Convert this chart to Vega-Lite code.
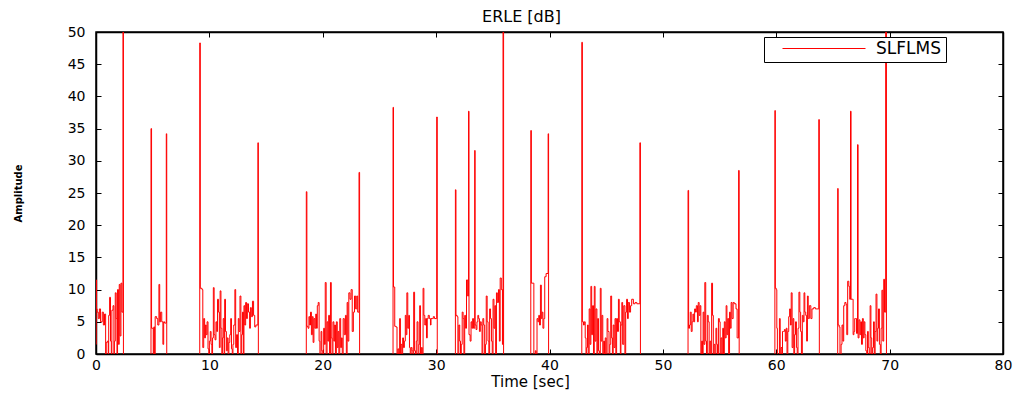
{
"$schema": "https://vega.github.io/schema/vega-lite/v6.json",
"autosize": {"type": "none"},
"padding": {"left": 96, "top": 32, "right": 23, "bottom": 42},
"width": 907,
"height": 322,
"background": "white",
"title": {"text": "ERLE [dB]", "font": "DejaVu Sans", "fontSize": 16, "fontWeight": "normal", "color": "black", "offset": 0, "dx": -28},
"config": {
  "view": {"stroke": "black", "strokeWidth": 1.5},
  "axis": {"grid": false, "domainColor": "black", "domainWidth": 1.5, "tickColor": "black", "tickSize": -5, "labelFont": "DejaVu Sans", "labelFontSize": 14, "labelColor": "black", "titleFont": "DejaVu Sans", "titleColor": "black", "titleFontWeight": "normal"},
  "legend": {"orient": "none", "legendX": 668, "legendY": 5, "strokeColor": "black", "fillColor": "white", "padding": 5, "symbolType": "stroke", "symbolSize": 6889, "symbolStrokeWidth": 1, "symbolOffset": 13, "labelOffset": 10, "labelFont": "DejaVu Sans", "labelFontSize": 17, "labelColor": "black", "clipHeight": 13, "labelLimit": 300, "title": null}
},
"data": {"values": [
{"t":0,"v":1.5},{"t":0.02,"v":11.5},{"t":0.05,"v":7.0},{"t":0.1,"v":6.5},{"t":0.2,"v":5.5},{"t":0.3,"v":7.0},{"t":0.4,"v":5.0},{"t":0.55,"v":6.5},{"t":0.65,"v":4.5},{"t":0.75,"v":6.2},{"t":0.85,"v":-5},{"t":0.9,"v":1.8},{"t":1.0,"v":2.0},{"t":1.08,"v":-5},{"t":1.12,"v":6.0},{"t":1.2,"v":8.8},{"t":1.28,"v":2.0},{"t":1.35,"v":-5},{"t":1.4,"v":6.8},{"t":1.5,"v":7.5},{"t":1.58,"v":-5},{"t":1.62,"v":2.0},{"t":1.7,"v":9.5},{"t":1.78,"v":5.5},{"t":1.85,"v":-5},{"t":1.9,"v":10.0},{"t":1.98,"v":1.5},{"t":2.05,"v":10.8},{"t":2.12,"v":2.8},{"t":2.2,"v":11.0},{"t":2.28,"v":6.5},{"t":2.38,"v":50.5},{"t":2.42,"v":-5},
{"t":4.85,"v":35},{"t":4.9,"v":4.0},{"t":5.05,"v":-5},{"t":5.1,"v":4.2},{"t":5.17,"v":-5},{"t":5.22,"v":5.8},{"t":5.35,"v":5.5},{"t":5.45,"v":4.5},{"t":5.55,"v":10.8},{"t":5.62,"v":5.0},{"t":5.7,"v":6.5},{"t":5.8,"v":5.0},{"t":5.9,"v":1.5},{"t":5.97,"v":5.0},{"t":6.05,"v":4.8},{"t":6.2,"v":34.2},{"t":6.24,"v":-5},
{"t":9.15,"v":48.3},{"t":9.2,"v":10.2},{"t":9.35,"v":10.0},{"t":9.42,"v":1.0},{"t":9.5,"v":5.5},{"t":9.58,"v":2.5},{"t":9.65,"v":4.5},{"t":9.72,"v":3.0},{"t":9.8,"v":5.0},{"t":9.88,"v":0.8},{"t":9.95,"v":-5},{"t":10.0,"v":2.0},{"t":10.08,"v":3.5},{"t":10.15,"v":1.5},{"t":10.22,"v":-5},{"t":10.28,"v":2.5},{"t":10.35,"v":10.3},{"t":10.42,"v":3.0},{"t":10.5,"v":2.2},{"t":10.58,"v":5.0},{"t":10.65,"v":3.5},{"t":10.72,"v":8.5},{"t":10.8,"v":6.5},{"t":10.88,"v":1.0},{"t":10.95,"v":9.8},{"t":11.02,"v":4.0},{"t":11.1,"v":-5},{"t":11.15,"v":2.5},{"t":11.22,"v":5.5},{"t":11.3,"v":-5},{"t":11.35,"v":8.5},{"t":11.42,"v":3.5},{"t":11.5,"v":0.5},{"t":11.58,"v":2.5},{"t":11.65,"v":-5},{"t":11.72,"v":1.8},{"t":11.8,"v":3.0},{"t":11.88,"v":5.5},{"t":11.95,"v":0.8},{"t":12.02,"v":-5},{"t":12.08,"v":1.5},{"t":12.15,"v":4.5},{"t":12.25,"v":10.0},{"t":12.32,"v":1.0},{"t":12.4,"v":3.0},{"t":12.48,"v":-5},{"t":12.55,"v":5.5},{"t":12.62,"v":3.5},{"t":12.7,"v":9.0},{"t":12.78,"v":-5},{"t":12.85,"v":3.0},{"t":12.92,"v":6.5},{"t":13.0,"v":-5},{"t":13.05,"v":7.5},{"t":13.12,"v":4.5},{"t":13.2,"v":8.0},{"t":13.28,"v":5.5},{"t":13.35,"v":7.8},{"t":13.45,"v":6.5},{"t":13.55,"v":4.0},{"t":13.62,"v":7.2},{"t":13.7,"v":5.8},{"t":13.8,"v":8.2},{"t":13.9,"v":6.0},{"t":14.0,"v":4.2},{"t":14.1,"v":4.5},{"t":14.28,"v":32.8},{"t":14.32,"v":-5},
{"t":18.55,"v":25.2},{"t":18.6,"v":4.3},{"t":18.7,"v":4.0},{"t":18.78,"v":5.8},{"t":18.85,"v":4.5},{"t":18.92,"v":6.5},{"t":19.0,"v":3.0},{"t":19.08,"v":5.8},{"t":19.15,"v":1.8},{"t":19.22,"v":5.5},{"t":19.3,"v":4.0},{"t":19.38,"v":6.2},{"t":19.45,"v":4.0},{"t":19.52,"v":7.5},{"t":19.6,"v":8.0},{"t":19.68,"v":2.0},{"t":19.75,"v":-5},{"t":19.85,"v":3.5},{"t":19.92,"v":0.5},{"t":20.0,"v":-5},{"t":20.08,"v":4.0},{"t":20.15,"v":1.5},{"t":20.22,"v":11.1},{"t":20.3,"v":-5},{"t":20.38,"v":5.0},{"t":20.45,"v":2.0},{"t":20.52,"v":6.0},{"t":20.6,"v":-5},{"t":20.68,"v":11.1},{"t":20.75,"v":2.5},{"t":20.82,"v":-5},{"t":20.9,"v":5.0},{"t":20.98,"v":2.0},{"t":21.05,"v":4.5},{"t":21.12,"v":-5},{"t":21.2,"v":5.0},{"t":21.28,"v":1.0},{"t":21.35,"v":3.5},{"t":21.42,"v":-5},{"t":21.5,"v":5.5},{"t":21.58,"v":1.0},{"t":21.65,"v":2.5},{"t":21.72,"v":-5},{"t":21.8,"v":5.5},{"t":21.9,"v":3.0},{"t":22.0,"v":6.0},{"t":22.08,"v":-5},{"t":22.15,"v":8.0},{"t":22.22,"v":2.0},{"t":22.3,"v":9.5},{"t":22.4,"v":8.5},{"t":22.5,"v":10.0},{"t":22.6,"v":3.5},{"t":22.7,"v":6.5},{"t":22.8,"v":9.0},{"t":22.9,"v":7.0},{"t":23.0,"v":9.0},{"t":23.08,"v":6.5},{"t":23.2,"v":28.2},{"t":23.25,"v":-5},
{"t":26.2,"v":38.3},{"t":26.24,"v":10.4},{"t":26.35,"v":4.3},{"t":26.45,"v":4.2},{"t":26.55,"v":-5},{"t":26.62,"v":0.8},{"t":26.7,"v":-5},{"t":26.78,"v":5.5},{"t":26.85,"v":-5},{"t":26.9,"v":1.5},{"t":26.98,"v":-5},{"t":27.05,"v":2.5},{"t":27.12,"v":1.0},{"t":27.2,"v":2.0},{"t":27.28,"v":6.0},{"t":27.35,"v":3.0},{"t":27.42,"v":9.5},{"t":27.5,"v":4.0},{"t":27.58,"v":6.0},{"t":27.65,"v":1.0},{"t":27.72,"v":-5},{"t":27.8,"v":1.0},{"t":27.88,"v":0.5},{"t":27.95,"v":-5},{"t":28.02,"v":9.6},{"t":28.1,"v":0.5},{"t":28.18,"v":-5},{"t":28.25,"v":2.0},{"t":28.32,"v":5.0},{"t":28.4,"v":-5},{"t":28.48,"v":1.5},{"t":28.55,"v":7.5},{"t":28.62,"v":-5},{"t":28.7,"v":1.0},{"t":28.78,"v":-5},{"t":28.85,"v":10.2},{"t":28.92,"v":6.0},{"t":29.0,"v":4.5},{"t":29.08,"v":5.5},{"t":29.15,"v":2.5},{"t":29.22,"v":5.5},{"t":29.3,"v":6.0},{"t":29.4,"v":5.5},{"t":29.5,"v":4.5},{"t":29.55,"v":5.5},{"t":29.65,"v":5.5},{"t":29.75,"v":5.8},{"t":29.85,"v":5.5},{"t":30.05,"v":36.8},{"t":30.1,"v":-5},
{"t":31.7,"v":25.5},{"t":31.75,"v":6.0},{"t":31.85,"v":5.8},{"t":31.92,"v":-5},{"t":32.0,"v":4.5},{"t":32.08,"v":2.0},{"t":32.15,"v":-5},{"t":32.22,"v":1.5},{"t":32.3,"v":6.5},{"t":32.38,"v":5.5},{"t":32.45,"v":-5},{"t":32.52,"v":6.0},{"t":32.6,"v":4.0},{"t":32.68,"v":11.5},{"t":32.78,"v":9.0},{"t":32.86,"v":37.7},{"t":32.9,"v":3.0},{"t":33.0,"v":2.0},{"t":33.08,"v":5.0},{"t":33.15,"v":4.0},{"t":33.22,"v":5.5},{"t":33.3,"v":4.0},{"t":33.4,"v":31.6},{"t":33.44,"v":4.5},{"t":33.52,"v":3.8},{"t":33.6,"v":5.0},{"t":33.68,"v":6.0},{"t":33.75,"v":5.5},{"t":33.82,"v":3.5},{"t":33.9,"v":5.0},{"t":33.98,"v":4.5},{"t":34.05,"v":-5},{"t":34.12,"v":5.5},{"t":34.2,"v":4.5},{"t":34.28,"v":-5},{"t":34.35,"v":1.5},{"t":34.42,"v":9.0},{"t":34.5,"v":5.0},{"t":34.58,"v":2.0},{"t":34.65,"v":-5},{"t":34.72,"v":7.0},{"t":34.8,"v":5.5},{"t":34.88,"v":2.0},{"t":34.95,"v":-5},{"t":35.02,"v":8.5},{"t":35.1,"v":4.0},{"t":35.18,"v":7.5},{"t":35.25,"v":-5},{"t":35.32,"v":9.5},{"t":35.4,"v":8.0},{"t":35.5,"v":10.0},{"t":35.58,"v":2.0},{"t":35.65,"v":11.8},{"t":35.75,"v":10.0},{"t":35.85,"v":1.5},{"t":35.9,"v":50.5},{"t":35.95,"v":-5},
{"t":38.35,"v":34.7},{"t":38.4,"v":11.0},{"t":38.55,"v":11.0},{"t":38.62,"v":-5},{"t":38.75,"v":0.5},{"t":38.82,"v":-5},{"t":38.9,"v":5.5},{"t":38.98,"v":5.0},{"t":39.05,"v":6.0},{"t":39.12,"v":4.5},{"t":39.2,"v":10.7},{"t":39.28,"v":5.5},{"t":39.35,"v":6.5},{"t":39.42,"v":4.0},{"t":39.5,"v":5.5},{"t":39.58,"v":12.0},{"t":39.7,"v":12.5},{"t":39.88,"v":34.2},{"t":39.92,"v":-5},
{"t":42.85,"v":48.4},{"t":42.9,"v":5.0},{"t":43.0,"v":4.5},{"t":43.07,"v":5.0},{"t":43.15,"v":2.5},{"t":43.22,"v":-5},{"t":43.28,"v":1.0},{"t":43.35,"v":4.5},{"t":43.42,"v":-5},{"t":43.5,"v":7.0},{"t":43.58,"v":1.5},{"t":43.65,"v":10.5},{"t":43.72,"v":3.0},{"t":43.8,"v":7.5},{"t":43.88,"v":-5},{"t":43.95,"v":10.5},{"t":44.02,"v":2.0},{"t":44.1,"v":7.0},{"t":44.18,"v":-5},{"t":44.25,"v":5.5},{"t":44.32,"v":0.5},{"t":44.4,"v":-5},{"t":44.48,"v":10.2},{"t":44.55,"v":2.0},{"t":44.62,"v":6.0},{"t":44.7,"v":-5},{"t":44.78,"v":2.0},{"t":44.85,"v":-5},{"t":44.92,"v":2.5},{"t":45.0,"v":-5},{"t":45.08,"v":5.5},{"t":45.15,"v":3.5},{"t":45.25,"v":-5},{"t":45.32,"v":1.5},{"t":45.4,"v":9.0},{"t":45.48,"v":2.5},{"t":45.55,"v":-5},{"t":45.62,"v":4.5},{"t":45.7,"v":1.0},{"t":45.78,"v":5.5},{"t":45.85,"v":-5},{"t":45.92,"v":5.5},{"t":46.0,"v":3.5},{"t":46.08,"v":8.5},{"t":46.15,"v":5.0},{"t":46.25,"v":-5},{"t":46.3,"v":4.5},{"t":46.38,"v":8.0},{"t":46.45,"v":1.5},{"t":46.55,"v":7.5},{"t":46.65,"v":-5},{"t":46.72,"v":6.5},{"t":46.8,"v":8.5},{"t":46.88,"v":5.5},{"t":46.95,"v":8.0},{"t":47.05,"v":6.5},{"t":47.15,"v":7.5},{"t":47.25,"v":8.5},{"t":47.4,"v":7.8},{"t":47.55,"v":8.0},{"t":47.7,"v":7.8},{"t":47.97,"v":32.8},{"t":48.02,"v":-5},
{"t":52.22,"v":25.4},{"t":52.27,"v":4.0},{"t":52.35,"v":4.5},{"t":52.42,"v":6.5},{"t":52.5,"v":3.5},{"t":52.58,"v":5.0},{"t":52.65,"v":6.2},{"t":52.72,"v":5.0},{"t":52.8,"v":7.0},{"t":52.88,"v":6.5},{"t":52.95,"v":7.5},{"t":53.05,"v":5.0},{"t":53.12,"v":8.0},{"t":53.2,"v":6.0},{"t":53.28,"v":7.5},{"t":53.35,"v":-5},{"t":53.42,"v":2.0},{"t":53.5,"v":-5},{"t":53.55,"v":6.5},{"t":53.62,"v":1.5},{"t":53.7,"v":11.1},{"t":53.78,"v":2.0},{"t":53.85,"v":-5},{"t":53.92,"v":6.0},{"t":54.0,"v":5.0},{"t":54.08,"v":-5},{"t":54.15,"v":2.0},{"t":54.22,"v":-5},{"t":54.3,"v":11.0},{"t":54.38,"v":6.0},{"t":54.45,"v":-5},{"t":54.52,"v":1.5},{"t":54.6,"v":-5},{"t":54.68,"v":4.0},{"t":54.75,"v":1.5},{"t":54.82,"v":-5},{"t":54.9,"v":5.5},{"t":54.98,"v":5.0},{"t":55.05,"v":-5},{"t":55.12,"v":2.5},{"t":55.2,"v":-5},{"t":55.28,"v":4.0},{"t":55.35,"v":-5},{"t":55.42,"v":5.0},{"t":55.5,"v":2.5},{"t":55.58,"v":7.5},{"t":55.65,"v":3.0},{"t":55.72,"v":5.5},{"t":55.8,"v":-5},{"t":55.88,"v":6.5},{"t":55.95,"v":4.0},{"t":56.02,"v":8.0},{"t":56.1,"v":5.5},{"t":56.2,"v":8.0},{"t":56.3,"v":7.8},{"t":56.45,"v":7.0},{"t":56.55,"v":2.5},{"t":56.68,"v":28.5},{"t":56.73,"v":-5},
{"t":59.88,"v":37.8},{"t":59.92,"v":10.2},{"t":60.0,"v":10.0},{"t":60.05,"v":4.0},{"t":60.1,"v":-5},{"t":60.28,"v":5.5},{"t":60.35,"v":-5},{"t":60.42,"v":1.0},{"t":60.5,"v":-5},{"t":60.55,"v":3.5},{"t":60.65,"v":3.5},{"t":60.72,"v":3.8},{"t":60.8,"v":2.0},{"t":60.88,"v":4.0},{"t":60.95,"v":-5},{"t":61.02,"v":3.5},{"t":61.1,"v":5.8},{"t":61.18,"v":7.0},{"t":61.25,"v":4.5},{"t":61.32,"v":9.5},{"t":61.4,"v":1.0},{"t":61.48,"v":5.5},{"t":61.55,"v":-5},{"t":61.62,"v":3.0},{"t":61.7,"v":5.0},{"t":61.78,"v":1.0},{"t":61.85,"v":-5},{"t":61.92,"v":4.0},{"t":62.0,"v":9.6},{"t":62.08,"v":6.5},{"t":62.15,"v":3.5},{"t":62.22,"v":-5},{"t":62.3,"v":6.0},{"t":62.38,"v":5.0},{"t":62.45,"v":9.5},{"t":62.52,"v":6.5},{"t":62.6,"v":6.0},{"t":62.68,"v":2.0},{"t":62.75,"v":9.0},{"t":62.82,"v":5.5},{"t":62.92,"v":7.5},{"t":63.05,"v":5.5},{"t":63.15,"v":7.0},{"t":63.3,"v":7.2},{"t":63.45,"v":7.0},{"t":63.75,"v":36.4},{"t":63.8,"v":-5},
{"t":65.42,"v":25.7},{"t":65.46,"v":4.5},{"t":65.55,"v":4.2},{"t":65.62,"v":-5},{"t":65.72,"v":1.5},{"t":65.8,"v":4.5},{"t":65.88,"v":2.0},{"t":65.95,"v":7.5},{"t":66.05,"v":8.0},{"t":66.15,"v":7.7},{"t":66.22,"v":3.0},{"t":66.3,"v":11.3},{"t":66.4,"v":10.5},{"t":66.48,"v":8.5},{"t":66.55,"v":37.7},{"t":66.6,"v":8.5},{"t":66.7,"v":8.5},{"t":66.78,"v":3.0},{"t":66.85,"v":3.5},{"t":66.92,"v":5.5},{"t":67.0,"v":5.5},{"t":67.08,"v":3.2},{"t":67.17,"v":32.5},{"t":67.22,"v":2.5},{"t":67.3,"v":5.3},{"t":67.38,"v":3.0},{"t":67.45,"v":5.0},{"t":67.52,"v":1.5},{"t":67.6,"v":5.5},{"t":67.68,"v":2.5},{"t":67.75,"v":5.0},{"t":67.82,"v":3.0},{"t":67.9,"v":0.5},{"t":67.98,"v":-5},{"t":68.05,"v":3.5},{"t":68.12,"v":1.0},{"t":68.2,"v":-5},{"t":68.28,"v":7.5},{"t":68.35,"v":2.5},{"t":68.42,"v":-5},{"t":68.5,"v":1.0},{"t":68.58,"v":5.0},{"t":68.65,"v":-5},{"t":68.72,"v":3.5},{"t":68.8,"v":9.3},{"t":68.88,"v":2.0},{"t":68.95,"v":4.0},{"t":69.02,"v":7.0},{"t":69.1,"v":1.5},{"t":69.18,"v":-5},{"t":69.25,"v":4.0},{"t":69.32,"v":9.9},{"t":69.4,"v":2.0},{"t":69.48,"v":11.6},{"t":69.55,"v":6.5},{"t":69.65,"v":50.5},{"t":69.72,"v":-5},{"t":80,"v":-5}
]},
"layer": [
  {
    "mark": {"type": "line", "interpolate": "step-after", "clip": true, "strokeWidth": 1},
    "encoding": {
      "x": {"field": "t", "type": "quantitative", "scale": {"domain": [0, 80], "nice": false}, "axis": {"orient": "bottom", "values": [0,10,20,30,40,50,60,70,80], "title": "Time [sec]", "titleFontSize": 15, "titlePadding": 2, "titleX": 434, "labelPadding": 9, "labelFlush": false}},
      "y": {"field": "v", "type": "quantitative", "scale": {"domain": [0, 50], "nice": false, "zero": false}, "axis": {"orient": "left", "values": [0,5,10,15,20,25,30,35,40,45,50], "title": "Amplitude", "titleFontSize": 10, "titleFontWeight": "bold", "titlePadding": 44, "labelPadding": 16}},
      "color": {"datum": "SLFLMS", "type": "nominal", "scale": {"range": ["#ff0000"]}, "legend": {"labelExpr": "datum.label + '\u00a0\u00a0\u00a0\u00a0\u00a0\u00a0\u00a0\u00a0'"}}
    }
  },
  {
    "mark": {"type": "line", "opacity": 0, "clip": true},
    "encoding": {
      "x": {"field": "t", "type": "quantitative", "axis": {"orient": "top", "values": [0,10,20,30,40,50,60,70,80], "labels": false, "title": null}},
      "y": {"field": "v", "type": "quantitative", "axis": {"orient": "right", "values": [0,5,10,15,20,25,30,35,40,45,50], "labels": false, "title": null}}
    }
  }
],
"resolve": {"axis": {"x": "independent", "y": "independent"}}
}
